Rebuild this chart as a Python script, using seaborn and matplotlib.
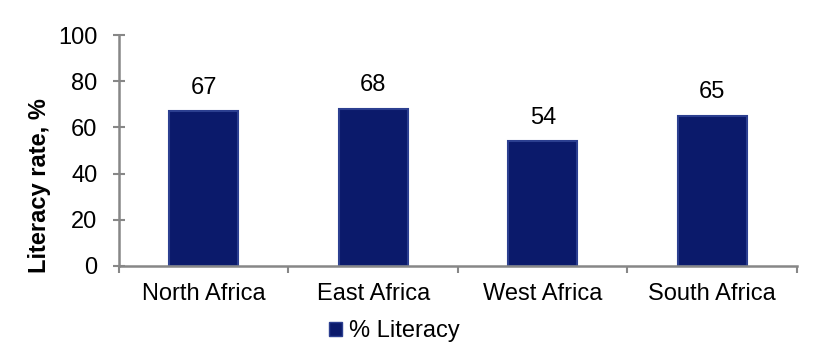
import matplotlib
matplotlib.use("Agg")
import matplotlib.pyplot as plt
import seaborn as sns
import pandas as pd
from matplotlib.patches import Patch

regions = ["North Africa", "East Africa", "West Africa", "South Africa"]
literacy = [67, 68, 54, 65]
series_name = "% Literacy"
y_label = "Literacy rate, %"
y_ticks = [0, 20, 40, 60, 80, 100]

sns.set_theme(style="white")
plt.rcParams["font.family"] = ["Liberation Sans", "DejaVu Sans"]
plt.rcParams["text.color"] = "black"
plt.rcParams["axes.labelcolor"] = "black"

df = pd.DataFrame({"region": regions, "value": literacy})

fig = plt.figure(figsize=(8.29, 3.49), dpi=100)
ax = fig.add_axes([119/829, 1-266/349, (797-119)/829, (266-35)/349])

bar_color = "#0b1a6b"
edge_color = "#2c3f90"
sns.barplot(data=df, x="region", y="value", color=bar_color, width=0.41,
            saturation=1, ax=ax, edgecolor=edge_color, linewidth=1.5)

ax.set_ylim(0, 100)
ax.set_xlim(-0.5, len(regions) - 0.5)
ax.set_yticks(y_ticks)
ax.set_xlabel("")
ax.set_ylabel(y_label, fontsize=17, fontweight="bold")
ax.yaxis.set_label_coords(-0.10, 0.35)

for s in ["top", "right"]:
    ax.spines[s].set_visible(False)
for s in ["left", "bottom"]:
    ax.spines[s].set_color("#878787")
    ax.spines[s].set_linewidth(1.8)

ax.tick_params(axis="y", direction="inout", length=9, width=1.5, color="#878787",
               labelsize=17, pad=11, left=True, labelcolor="black")
ax.tick_params(axis="x", which="major", length=0, labelsize=17, pad=12,
               labelcolor="black")
ax.set_xticks([i - 0.5 for i in range(len(regions) + 1)], minor=True)
ax.tick_params(axis="x", which="minor", direction="out", length=5, width=1.5,
               color="#878787", bottom=True)

for c in ax.containers:
    ax.bar_label(c, labels=[str(v) for v in literacy], padding=9, fontsize=17,
                 color="black")

handle = Patch(facecolor=bar_color, edgecolor=edge_color, label=series_name)
fig.legend(handles=[handle], loc="center", bbox_to_anchor=(394/829, 1-331/349),
           frameon=False, fontsize=17, handlelength=0.55, handleheight=0.55,
           handletextpad=0.3, labelcolor="black")

fig.savefig("out.png", dpi=100)
